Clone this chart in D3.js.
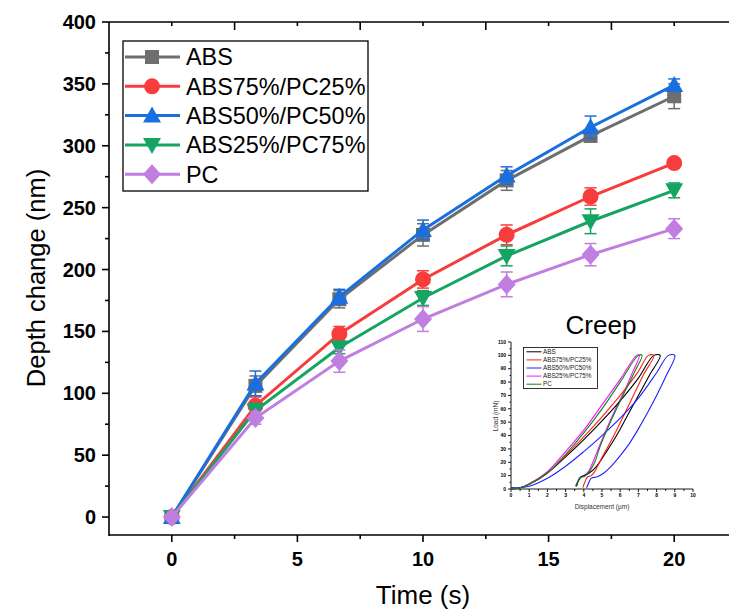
<!DOCTYPE html>
<html><head><meta charset="utf-8">
<script src="https://cdn.jsdelivr.net/npm/d3@7/dist/d3.min.js"></script>
<style>body{margin:0;background:#fff}svg{display:block;font-family:"Liberation Sans",Arial,sans-serif}</style>
</head><body><svg id="c" width="729" height="610"></svg>
<script>
// ---------- main chart data ----------
const time = [0, 3.33, 6.67, 10, 13.33, 16.67, 20];
const seriesNames = ["ABS", "ABS75%/PC25%", "ABS50%/PC50%", "ABS25%/PC75%", "PC"];
const absVals   = [0, 106, 176, 228, 272, 308, 340];
const absErr    = [0, 8, 7, 9, 8, 5, 10];
const abs75Vals = [0, 90, 148, 192, 228, 259, 286];
const abs75Err  = [0, 7, 6, 7, 8, 7, 3];
const abs50Vals = [0, 108, 178, 232, 276, 315, 349];
const abs50Err  = [0, 10, 6, 8, 7, 9, 5];
const abs25Vals = [0, 86, 137, 177, 211, 239, 264];
const abs25Err  = [0, 6, 5, 6, 8, 10, 6];
const pcVals    = [0, 80, 126, 160, 188, 212, 233];
const pcErr     = [0, 5, 9, 10, 10, 9, 8];
const yTicks = [0, 50, 100, 150, 200, 250, 300, 350, 400];
const xTicks = [0, 5, 10, 15, 20];

// ---------- inset (creep load-displacement) data ----------
const insetNames = ["ABS", "ABS75%/PC25%", "ABS50%/PC50%", "ABS25%/PC75%", "PC"];
const insetABS = [[0,0],[0.5,1],[1,3.5],[2,12],[3,24],[4,37],[5,51],[6,66],[7,83],[7.85,100],[8.2,100],
  [7.6,85],[7.0,70],[6.4,55],[5.8,40],[5.2,27],[4.7,17],[4.3,12],[4.0,10],[3.85,9],[3.7,6],[3.6,2]];
const insetABS75 = [[0,0],[0.5,1],[1,3.5],[2,12],[3,25],[4,39],[5,54],[6,70],[7,88],[7.55,100],[7.85,100],
  [7.3,86],[6.8,72],[6.3,58],[5.8,44],[5.3,31],[4.9,21],[4.6,13],[4.4,10],[4.2,9],[4.05,5],[3.95,1]];
const insetABS50 = [[0,1],[0.5,1],[1,2],[2,8],[3,17],[4,28],[5,40],[6,53],[7,68],[8,87],[8.65,100],[9.0,100],
  [8.5,84],[8.0,70],[7.5,57],[7.0,45],[6.5,34],[6.0,25],[5.5,17],[5.0,11],[4.7,9],[4.4,8],[4.25,4],[4.15,1]];
const insetABS25 = [[0,0],[0.5,1],[1,4],[2,13],[3,28],[4,44],[5,63],[6,82],[6.9,100],[7.05,100],
  [6.7,88],[6.25,74],[5.75,60],[5.25,45],[4.85,32],[4.5,20],[4.25,13],[4.0,10],[3.8,9],[3.65,5],[3.55,2]];
const insetPC = [[0,0],[0.5,1],[1,3.5],[2,12],[3,26],[4,42],[5,60],[6,80],[7.0,100],[7.2,100],
  [6.8,88],[6.3,74],[5.8,60],[5.3,45],[4.9,32],[4.6,20],[4.3,13],[4.05,9.5],[3.8,8.5],[3.65,5],[3.55,2]];
const insetXTicks = [0,1,2,3,4,5,6,7,8,9,10];
const insetYTicks = [0,10,20,30,40,50,60,70,80,90,100,110];

// ---------- drawing ----------
const svg = d3.select("#c");
const x = d3.scaleLinear().domain([-2.5, 22.5]).range([109, 737]);
const y = d3.scaleLinear().domain([-14.5, 400]).range([535, 22]);

const colors = ["#6e6e6e", "#f83c3c", "#1a6fe0", "#16a463", "#c07ee0"];
const vals = [absVals, abs75Vals, abs50Vals, abs25Vals, pcVals];
const errs = [absErr, abs75Err, abs50Err, abs25Err, pcErr];
const shapes = ["square", "circle", "triangle", "triangleDown", "diamond"];

function marker(g, shape, cx, cy, col) {
  if (shape === "square") g.append("rect").attr("x", cx-7).attr("y", cy-7).attr("width", 14).attr("height", 14).attr("fill", col);
  else if (shape === "circle") g.append("circle").attr("cx", cx).attr("cy", cy).attr("r", 8).attr("fill", col);
  else if (shape === "triangle") g.append("path").attr("d", `M${cx},${cy-9}L${cx+9},${cy+7}L${cx-9},${cy+7}Z`).attr("fill", col);
  else if (shape === "triangleDown") g.append("path").attr("d", `M${cx},${cy+9}L${cx+9},${cy-7}L${cx-9},${cy-7}Z`).attr("fill", col);
  else if (shape === "diamond") g.append("path").attr("d", `M${cx},${cy-10}L${cx+9},${cy}L${cx},${cy+10}L${cx-9},${cy}Z`).attr("fill", col);
}

// axes lines
const axG = svg.append("g").attr("stroke", "#000").attr("stroke-width", 1.6);
axG.append("line").attr("x1", 109).attr("x2", 729).attr("y1", 535).attr("y2", 535);
axG.append("line").attr("x1", 109).attr("x2", 729).attr("y1", 22).attr("y2", 22);
axG.append("line").attr("x1", 109).attr("x2", 109).attr("y1", 22).attr("y2", 536);

// left axis ticks
const yMinor = d3.range(25, 400, 50);
yTicks.forEach(v => axG.append("line").attr("x1", 102).attr("x2", 109).attr("y1", y(v)).attr("y2", y(v)));
yMinor.forEach(v => axG.append("line").attr("x1", 105).attr("x2", 109).attr("y1", y(v)).attr("y2", y(v)));
svg.append("g").selectAll("text").data(yTicks).join("text")
  .attr("x", 96).attr("y", d => y(d)).attr("dy", "0.35em").attr("text-anchor", "end")
  .attr("font-size", 20).attr("font-weight", "bold").text(d => d);

// bottom axis ticks
const xMinor = [2.5, 7.5, 12.5, 17.5, 22.5];
xTicks.forEach(v => axG.append("line").attr("x1", x(v)).attr("x2", x(v)).attr("y1", 535).attr("y2", 542));
xMinor.forEach(v => axG.append("line").attr("x1", x(v)).attr("x2", x(v)).attr("y1", 535).attr("y2", 539));
svg.append("g").selectAll("text").data(xTicks).join("text")
  .attr("x", d => x(d)).attr("y", 566).attr("text-anchor", "middle")
  .attr("font-size", 20).attr("font-weight", "bold").text(d => d);
// top axis ticks (inward)
xMinor.forEach(v => axG.append("line").attr("x1", x(v)).attr("x2", x(v)).attr("y1", 22).attr("y2", 30));
xTicks.forEach(v => axG.append("line").attr("x1", x(v)).attr("x2", x(v)).attr("y1", 22).attr("y2", 26));

// axis titles
svg.append("text").attr("transform", "translate(45,278) rotate(-90)").attr("text-anchor", "middle")
  .attr("font-size", 25.5).text("Depth change (nm)");
svg.append("text").attr("x", 423).attr("y", 604).attr("text-anchor", "middle")
  .attr("font-size", 26).text("Time (s)");

// series
const line = d3.line().x(d => x(d[0])).y(d => y(d[1]));
vals.forEach((v, i) => {
  const g = svg.append("g");
  const pts = time.map((t, j) => [t, v[j]]);
  g.append("path").attr("d", line(pts)).attr("fill", "none").attr("stroke", colors[i]).attr("stroke-width", 3);
  time.forEach((t, j) => {
    const e = errs[i][j];
    if (e > 0) {
      const cx = x(t), y1 = y(v[j] + e), y2 = y(v[j] - e);
      g.append("line").attr("x1", cx).attr("x2", cx).attr("y1", y1).attr("y2", y2).attr("stroke", colors[i]).attr("stroke-width", 1.5);
      [y1, y2].forEach(yy => g.append("line").attr("x1", cx-6).attr("x2", cx+6).attr("y1", yy).attr("y2", yy).attr("stroke", colors[i]).attr("stroke-width", 1.5));
    }
  });
  time.forEach((t, j) => marker(g, shapes[i], x(t), y(v[j]), colors[i]));
});

// legend
const lg = svg.append("g");
lg.append("rect").attr("x", 123).attr("y", 41).attr("width", 245).attr("height", 150)
  .attr("fill", "#fff").attr("stroke", "#000").attr("stroke-width", 1.3);
seriesNames.forEach((n, i) => {
  const yy = 57 + i * 29.3;
  lg.append("line").attr("x1", 125).attr("x2", 180).attr("y1", yy).attr("y2", yy).attr("stroke", colors[i]).attr("stroke-width", 3);
  marker(lg, shapes[i], 152, yy, colors[i]);
  lg.append("text").attr("x", 186).attr("y", yy).attr("dy", "0.36em").attr("font-size", 23.4).text(n);
});

// ---------- inset ----------
const ix = d3.scaleLinear().domain([0, 10]).range([511, 693]);
const iy = d3.scaleLinear().domain([0, 110]).range([489, 342]);
const ins = svg.append("g");
ins.append("text").attr("x", 601).attr("y", 334).attr("text-anchor", "middle").attr("font-size", 26).text("Creep");
const iax = ins.append("g").attr("stroke", "#000").attr("stroke-width", 0.9);
iax.append("line").attr("x1", 511).attr("x2", 693).attr("y1", 489).attr("y2", 489);
iax.append("line").attr("x1", 511).attr("x2", 511).attr("y1", 342).attr("y2", 489);
insetXTicks.forEach(v => iax.append("line").attr("x1", ix(v)).attr("x2", ix(v)).attr("y1", 489).attr("y2", 492));
insetXTicks.slice(0, -1).forEach(v => iax.append("line").attr("x1", ix(v+0.5)).attr("x2", ix(v+0.5)).attr("y1", 489).attr("y2", 491));
insetYTicks.forEach(v => iax.append("line").attr("x1", 508).attr("x2", 511).attr("y1", iy(v)).attr("y2", iy(v)));
insetYTicks.slice(0, -1).forEach(v => iax.append("line").attr("x1", 509.5).attr("x2", 511).attr("y1", iy(v+5)).attr("y2", iy(v+5)));
ins.append("g").selectAll("text").data(insetXTicks).join("text")
  .attr("x", d => ix(d)).attr("y", 497).attr("text-anchor", "middle").attr("font-size", 5).attr("font-weight", "bold").text(d => d);
ins.append("g").selectAll("text").data(insetYTicks).join("text")
  .attr("x", 506).attr("y", d => iy(d)).attr("dy", "0.35em").attr("text-anchor", "end").attr("font-size", 5).attr("font-weight", "bold").text(d => d);
ins.append("text").attr("x", 602).attr("y", 509).attr("text-anchor", "middle").attr("font-size", 6.5).attr("fill", "#333").text("Displacement (µm)");
ins.append("text").attr("transform", "translate(498,416) rotate(-90)").attr("text-anchor", "middle").attr("font-size", 6.5).attr("fill", "#333").text("Load (mN)");

const insetData = [insetABS, insetABS75, insetABS50, insetABS25, insetPC];
const insetColors = ["#000000", "#ff1f1f", "#2020ff", "#ff10ff", "#0a8a1a"];
const iline = d3.line().x(d => ix(d[0])).y(d => iy(d[1])).curve(d3.curveCatmullRom.alpha(0.5));
[3, 0, 1, 2, 4].forEach(i => {
  ins.append("path").attr("d", iline(insetData[i])).attr("fill", "none").attr("stroke", insetColors[i]).attr("stroke-width", 1.1);
});
const il = ins.append("g");
il.append("rect").attr("x", 523.5).attr("y", 347.5).attr("width", 74).attr("height", 41).attr("fill", "#fff").attr("stroke", "#000").attr("stroke-width", 0.8);
insetNames.forEach((n, i) => {
  const yy = 351.8 + i * 8.1;
  il.append("line").attr("x1", 526.5).attr("x2", 541.5).attr("y1", yy).attr("y2", yy).attr("stroke", insetColors[i]).attr("stroke-width", 1);
  il.append("text").attr("x", 543).attr("y", yy).attr("dy", "0.35em").attr("font-size", 6.3).attr("fill", "#222").text(n);
});
</script></body></html>
